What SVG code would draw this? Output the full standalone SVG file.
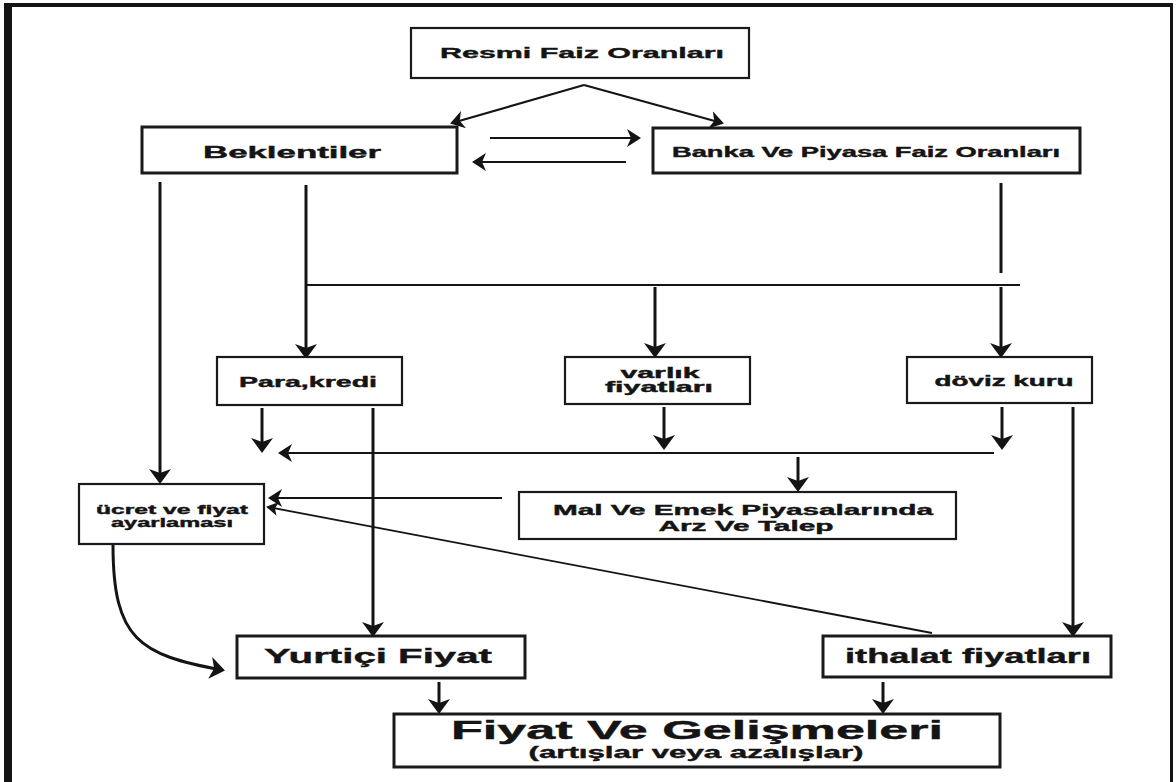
<svg xmlns="http://www.w3.org/2000/svg" width="1176" height="782" viewBox="0 0 1176 782">
<style>
.box{fill:#fff;stroke:#1a1a1a;stroke-width:2.2}
.bx3{stroke-width:3}
.t{font-family:"Liberation Sans",Arial,sans-serif;font-weight:bold;fill:#141414;stroke:#141414;stroke-width:0.4;text-anchor:middle}
.c{fill:none;stroke:#141414;stroke-width:3}
.th{stroke-width:2.2}
.tn{stroke-width:1.8}
</style>
<defs>
<marker id="ah" markerUnits="userSpaceOnUse" markerWidth="15" markerHeight="22" viewBox="0 0 15 22" refX="12" refY="11" orient="auto">
<path d="M0,0 L15,11 L0,22 L4,11 Z" fill="#141414"/>
</marker>
<marker id="as" markerUnits="userSpaceOnUse" markerWidth="14" markerHeight="18" viewBox="0 0 14 18" refX="12" refY="9" orient="auto">
<path d="M0,0 L14,9 L0,18 L4,9 Z" fill="#141414"/>
</marker>
<marker id="ad" markerUnits="userSpaceOnUse" markerWidth="12" markerHeight="14" viewBox="0 0 12 14" refX="10" refY="7" orient="auto">
<path d="M0,0 L12,7 L0,14 L3,7 Z" fill="#141414"/>
</marker>
</defs>
<rect width="1176" height="782" fill="#fff"/>
<g id="frame" fill="#141414">
<rect x="4" y="3" width="1169" height="4"/>
<rect x="4" y="3" width="8" height="779"/>
<rect x="1170" y="3" width="3" height="779"/>
</g>
<g id="connectors">
<line class="c th" x1="584" y1="85" x2="452" y2="123" marker-end="url(#as)"/>
<line class="c th" x1="584" y1="85" x2="722" y2="123" marker-end="url(#as)"/>
<line class="c th" x1="490" y1="138" x2="639" y2="138" marker-end="url(#as)"/>
<line class="c th" x1="626" y1="162" x2="474" y2="162" marker-end="url(#as)"/>
<line class="c" x1="160" y1="182" x2="160" y2="481" marker-end="url(#ah)"/>
<line class="c" x1="306" y1="185" x2="306" y2="356" marker-end="url(#ah)"/>
<line class="c" x1="1001" y1="183" x2="1001" y2="273"/>
<line class="c th" x1="306" y1="285" x2="1020" y2="285"/>
<line class="c" x1="655" y1="287" x2="655" y2="355" marker-end="url(#ah)"/>
<line class="c" x1="1001" y1="287" x2="1001" y2="355" marker-end="url(#ah)"/>
<line class="c" x1="262" y1="408" x2="262" y2="450" marker-end="url(#ah)"/>
<line class="c" x1="373" y1="408" x2="373" y2="634" marker-end="url(#ah)"/>
<line class="c" x1="664" y1="407" x2="664" y2="447" marker-end="url(#ah)"/>
<line class="c" x1="1002" y1="407" x2="1002" y2="447" marker-end="url(#ah)"/>
<line class="c" x1="1073" y1="407" x2="1073" y2="634" marker-end="url(#ah)"/>
<line class="c th" x1="994" y1="453" x2="280" y2="453" marker-end="url(#as)"/>
<line class="c" x1="798" y1="457" x2="798" y2="489" marker-end="url(#ah)"/>
<line class="c th" x1="502" y1="498" x2="270" y2="498" marker-end="url(#as)"/>
<line class="c tn" x1="932" y1="633" x2="268" y2="507" marker-end="url(#ad)"/>
<path class="c" d="M113,545 C113,640 140,655 222,670" marker-end="url(#ah)"/>
<line class="c" x1="439" y1="682" x2="439" y2="711" marker-end="url(#ah)"/>
<line class="c" x1="883" y1="682" x2="883" y2="711" marker-end="url(#ah)"/>
</g>
<g id="n-resmi">
<rect class="box" x="411" y="28" width="338" height="50"/>
<text class="t" x="582" y="58" font-size="15.5" textLength="284" lengthAdjust="spacingAndGlyphs">Resmi Faiz Oranları</text>
</g>
<g id="n-beklentiler">
<rect class="box bx3" x="142" y="127" width="315" height="46"/>
<text class="t" x="292" y="158" font-size="16" textLength="178" lengthAdjust="spacingAndGlyphs">Beklentiler</text>
</g>
<g id="n-banka">
<rect class="box bx3" x="653" y="128" width="427" height="45"/>
<text class="t" x="866" y="157" font-size="14.5" textLength="388" lengthAdjust="spacingAndGlyphs">Banka Ve Piyasa Faiz Oranları</text>
</g>
<g id="n-para">
<rect class="box" x="217" y="357" width="185" height="48"/>
<text class="t" x="308" y="387" font-size="14" textLength="138" lengthAdjust="spacingAndGlyphs">Para,kredi</text>
</g>
<g id="n-varlik">
<rect class="box" x="565" y="357" width="185" height="47"/>
<text class="t" x="660" y="378" font-size="14" textLength="79" lengthAdjust="spacingAndGlyphs">varlık</text>
<text class="t" x="659" y="392" font-size="14" textLength="108" lengthAdjust="spacingAndGlyphs">fiyatları</text>
</g>
<g id="n-doviz">
<rect class="box" x="907" y="357" width="185" height="46"/>
<text class="t" x="1004" y="386" font-size="14" textLength="139" lengthAdjust="spacingAndGlyphs">döviz kuru</text>
</g>
<g id="n-ucret">
<rect class="box" x="79" y="484" width="185" height="60"/>
<text class="t" x="172" y="514" font-size="12.5" textLength="152" lengthAdjust="spacingAndGlyphs">ücret ve fiyat</text>
<text class="t" x="172" y="527" font-size="12.5" textLength="122" lengthAdjust="spacingAndGlyphs">ayarlaması</text>
</g>
<g id="n-mal">
<rect class="box" x="519" y="492" width="437" height="47"/>
<text class="t" x="743" y="515" font-size="14.5" textLength="380" lengthAdjust="spacingAndGlyphs">Mal Ve Emek Piyasalarında</text>
<text class="t" x="746" y="531" font-size="14.5" textLength="175" lengthAdjust="spacingAndGlyphs">Arz Ve Talep</text>
</g>
<g id="n-yurtici">
<rect class="box bx3" x="237" y="636" width="288" height="42"/>
<text class="t" x="378" y="663" font-size="21" textLength="228" lengthAdjust="spacingAndGlyphs">Yurtiçi Fiyat</text>
</g>
<g id="n-ithalat">
<rect class="box bx3" x="823" y="636" width="288" height="41"/>
<text class="t" x="968" y="663" font-size="19.5" textLength="246" lengthAdjust="spacingAndGlyphs">ithalat fiyatları</text>
</g>
<g id="n-fiyat">
<rect class="box bx3" x="394" y="714" width="606" height="53"/>
<text class="t" x="697" y="739" font-size="25" textLength="492" lengthAdjust="spacingAndGlyphs">Fiyat Ve Gelişmeleri</text>
<text class="t" x="696" y="758" font-size="16" textLength="335" lengthAdjust="spacingAndGlyphs">(artışlar veya azalışlar)</text>
</g>
</svg>
